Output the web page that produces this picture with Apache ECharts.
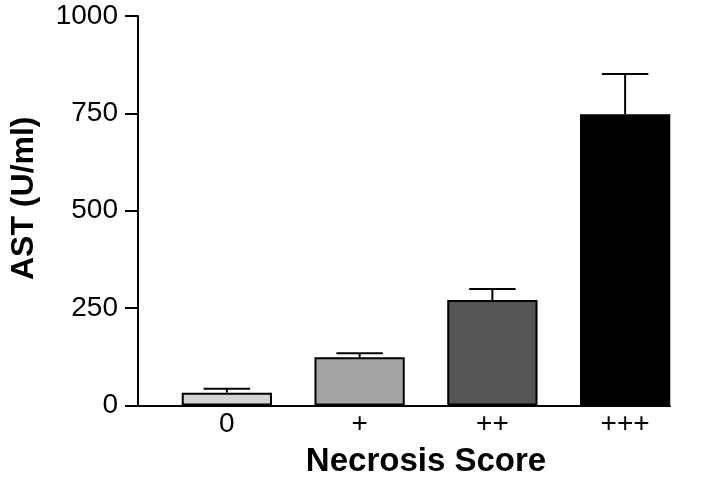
<!DOCTYPE html>
<html>
<head>
<meta charset="utf-8">
<script src="https://cdn.jsdelivr.net/npm/echarts@6/dist/echarts.min.js"></script>
<style>
html,body{margin:0;padding:0;background:#fff;}
#chart{width:720px;height:484px;}
</style>
</head>
<body>
<div id="chart"></div>
<script>
const categories = ['0', '+', '++', '+++'];
const meanValues = [33, 124, 271, 748];
const errorValues = [10, 10, 28, 103];
const barColors = ['#d4d4d4', '#a4a4a4', '#555555', '#000000'];
const yTicks = [0, 250, 500, 750, 1000];

const FONT = '"Liberation Sans", Arial, Helvetica, sans-serif';
const chart = echarts.init(document.getElementById('chart'), null, {renderer: 'canvas'});

const errorData = categories.map((c, i) => [i, meanValues[i], meanValues[i] + errorValues[i]]);

const option = {
  backgroundColor: '#ffffff',
  animation: false,
  grid: [
    {left: 155.5, width: 536, top: 16, bottom: 78.5},
    {left: 133, right: 50, top: 16, bottom: 78.5}
  ],
  xAxis: [
    {
      type: 'category', gridIndex: 0, data: categories,
      axisLine: {show: false}, axisTick: {show: false},
      axisLabel: {fontFamily: FONT, fontSize: 28, color: '#000', margin: 5},
      name: 'Necrosis Score', nameLocation: 'middle', nameGap: 40,
      nameTextStyle: {fontFamily: FONT, fontSize: 33, fontWeight: 'bold', color: '#000'}
    },
    {
      type: 'value', gridIndex: 1, min: 0, max: 1,
      axisLine: {show: true, lineStyle: {color: '#000', width: 2}},
      axisTick: {show: false}, axisLabel: {show: false}, splitLine: {show: false}
    }
  ],
  yAxis: [
    {
      type: 'value', gridIndex: 0, min: yTicks[0], max: yTicks[yTicks.length - 1], interval: 250,
      offset: 22.5,
      axisLine: {show: true, lineStyle: {color: '#000', width: 2}},
      axisTick: {show: true, length: 13, lineStyle: {color: '#000', width: 2}},
      axisLabel: {fontFamily: FONT, fontSize: 28, color: '#000', margin: 20,
        formatter: function (v) { return String(v); }},
      splitLine: {show: false},
      name: 'AST (U/ml)', nameLocation: 'middle', nameRotate: 90, nameGap: 98,
      nameTextStyle: {fontFamily: FONT, fontSize: 32, fontWeight: 'bold', color: '#000', padding: [0, 0, 0, 25]}
    },
    {
      type: 'value', gridIndex: 1, min: 0, max: 1, show: false
    }
  ],
  series: [
    {
      type: 'bar', xAxisIndex: 0, yAxisIndex: 0,
      barWidth: '68%',
      data: meanValues.map((v, i) => ({value: v, itemStyle: {color: barColors[i]}})),
      itemStyle: {borderColor: '#000', borderWidth: 2},
      z: 2
    },
    {
      type: 'custom', xAxisIndex: 0, yAxisIndex: 0,
      data: errorData,
      z: 3,
      renderItem: function (params, api) {
        const x = api.value(0);
        const top = api.coord([x, api.value(1)]);
        const hi = api.coord([x, api.value(2)]);
        const half = api.size([1, 0])[0] * 0.175;
        const style = {stroke: '#000', lineWidth: 2, fill: null};
        return {
          type: 'group',
          children: [
            {type: 'line', shape: {x1: top[0], y1: top[1], x2: hi[0], y2: hi[1]}, style: style},
            {type: 'line', shape: {x1: hi[0] - half, y1: hi[1], x2: hi[0] + half, y2: hi[1]}, style: style}
          ]
        };
      }
    }
  ]
};
chart.setOption(option);
</script>
</body>
</html>
